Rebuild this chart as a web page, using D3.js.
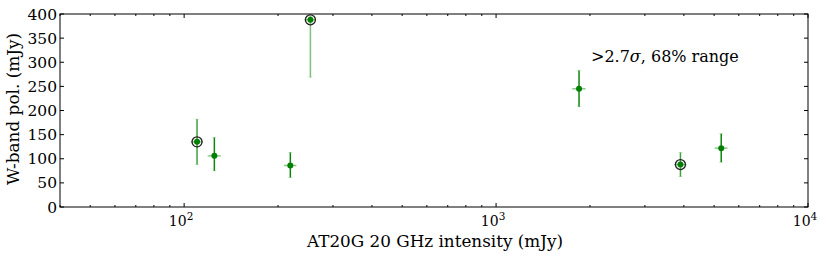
<!DOCTYPE html>
<html>
<head>
<meta charset="utf-8">
<title>W-band pol vs AT20G</title>
<script src="https://d3js.org/d3.v7.min.js"></script>
<style>
body { margin: 0; background: #fff; }
svg text { font-family: "DejaVu Serif", serif; fill: #000; }
</style>
</head>
<body>
<svg width="830" height="256"></svg>
<script>
// 20 GHz intensity (mJy) and W-band polarised flux (mJy)
var flux20 = [110, 125, 219, 254, 1845, 3900, 5270];
var flux20Err = [5, 6, 10, 11, 90, 180, 250];
var polW = [135, 106, 86, 388, 245, 88, 122];
var polLo = [88, 75, 61, 269, 208, 63, 93];
var polHi = [182, 144, 113, 395, 283, 113, 152];
var circled = [true, false, false, true, false, true, false];
var yTicks = [0, 50, 100, 150, 200, 250, 300, 350, 400];
var xTicks = [100, 1000, 10000];

// plot box (note: "top" is reserved on window, so use pl/pr/pt/pb)
var pl = 60, pr = 808, pt = 14, pb = 207;
var svg = d3.select('svg');

var x = d3.scaleLog().domain([40, 10000]).range([pl, pr]);
var y = d3.scaleLinear().domain([0, 400]).range([pb, pt]);

var pts = flux20.map(function(d, i) {
  return { x: d, xe: flux20Err[i], y: polW[i], lo: polLo[i], hi: polHi[i], c: circled[i] };
});

svg.append('clipPath').attr('id', 'clip').append('rect')
  .attr('x', pl).attr('y', pt).attr('width', pr - pl).attr('height', pb - pt);
var marks = svg.append('g').attr('clip-path', 'url(#clip)');

// horizontal error bars
marks.selectAll('.xe').data(pts).enter().append('line')
  .attr('x1', function(d) { return x(d.x - d.xe); })
  .attr('x2', function(d) { return x(d.x + d.xe); })
  .attr('y1', function(d) { return y(d.y); })
  .attr('y2', function(d) { return y(d.y); })
  .attr('stroke', '#008000').attr('stroke-opacity', 0.45).attr('stroke-width', 1.5);

// vertical error bars
marks.selectAll('.ye').data(pts).enter().append('line')
  .attr('x1', function(d) { return x(d.x); })
  .attr('x2', function(d) { return x(d.x); })
  .attr('y1', function(d) { return y(d.lo); })
  .attr('y2', function(d) { return y(d.hi); })
  .attr('stroke', '#008000')
  .attr('stroke-opacity', function(d) { return d.c && d.y > 300 ? 0.5 : (d.c ? 0.75 : 0.95); })
  .attr('stroke-width', 1.5);

// faint caps
marks.selectAll('.cap').data(pts.flatMap(function(d) { return [[d.x, d.lo], [d.x, d.hi]]; }))
  .enter().append('line')
  .attr('x1', function(d) { return x(d[0]) - 2; })
  .attr('x2', function(d) { return x(d[0]) + 2; })
  .attr('y1', function(d) { return y(d[1]); })
  .attr('y2', function(d) { return y(d[1]); })
  .attr('stroke', '#008000').attr('stroke-opacity', 0.2).attr('stroke-width', 1);

// open circles for flagged sources
marks.selectAll('.ring').data(pts.filter(function(d) { return d.c; })).enter().append('circle')
  .attr('cx', function(d) { return x(d.x); })
  .attr('cy', function(d) { return y(d.y); })
  .attr('r', 5).attr('fill', 'none').attr('stroke', '#222').attr('stroke-width', 1.3);

// dots
marks.selectAll('.dot').data(pts).enter().append('circle')
  .attr('cx', function(d) { return x(d.x); })
  .attr('cy', function(d) { return y(d.y); })
  .attr('r', 3).attr('fill', '#008000');

// ticks on all sides, pointing inward
var minor = [];
[10, 100, 1000].forEach(function(b) {
  for (var k = 2; k <= 9; k++) if (b * k >= 40) minor.push(b * k);
});
var tk = svg.append('g').attr('stroke', '#000').attr('stroke-width', 1);
xTicks.forEach(function(v) {
  tk.append('line').attr('x1', x(v)).attr('x2', x(v)).attr('y1', pb).attr('y2', pb - 4);
  tk.append('line').attr('x1', x(v)).attr('x2', x(v)).attr('y1', pt).attr('y2', pt + 4);
});
minor.forEach(function(v) {
  tk.append('line').attr('x1', x(v)).attr('x2', x(v)).attr('y1', pb).attr('y2', pb - 2);
  tk.append('line').attr('x1', x(v)).attr('x2', x(v)).attr('y1', pt).attr('y2', pt + 2);
});
yTicks.forEach(function(v) {
  tk.append('line').attr('x1', pl).attr('x2', pl + 4).attr('y1', y(v)).attr('y2', y(v));
  tk.append('line').attr('x1', pr).attr('x2', pr - 4).attr('y1', y(v)).attr('y2', y(v));
});

// frame
svg.append('rect').attr('x', pl).attr('y', pt)
  .attr('width', pr - pl).attr('height', pb - pt)
  .attr('fill', 'none').attr('stroke', '#000').attr('stroke-width', 1);

// y tick labels
svg.selectAll('.yl').data(yTicks).enter().append('text')
  .attr('x', pl - 3).attr('y', function(d) { return y(d) + 5.5; })
  .attr('text-anchor', 'end').attr('font-size', 15.5)
  .text(function(d) { return d; });

// x tick labels 10^n
xTicks.forEach(function(v) {
  var t = svg.append('text').attr('x', x(v) - 3).attr('y', 226)
    .attr('text-anchor', 'middle').attr('font-size', 14);
  t.append('tspan').text('10');
  t.append('tspan').attr('dy', -6).attr('font-size', 10.5).text(Math.round(Math.log10(v)));
});

// axis titles
svg.append('text').attr('x', 435).attr('y', 246.5)
  .attr('text-anchor', 'middle').attr('font-size', 17)
  .attr('textLength', 256).attr('lengthAdjust', 'spacingAndGlyphs')
  .text('AT20G 20 GHz intensity (mJy)');
svg.append('text')
  .attr('transform', 'translate(19,109) rotate(-90)')
  .attr('text-anchor', 'middle').attr('font-size', 16.5)
  .attr('textLength', 152).attr('lengthAdjust', 'spacingAndGlyphs')
  .text('W-band pol. (mJy)');

// annotation
var ann = svg.append('text').attr('x', 591).attr('y', 62).attr('font-size', 16);
ann.append('tspan').text('>2.7');
ann.append('tspan').attr('font-style', 'italic').text('σ');
ann.append('tspan').text(', 68% range');
</script>
</body>
</html>
